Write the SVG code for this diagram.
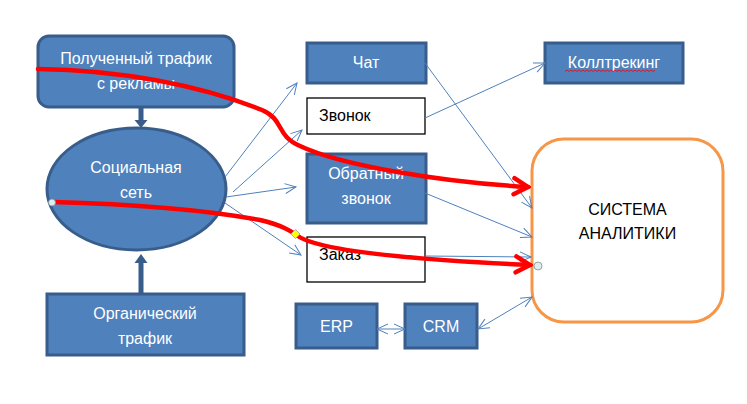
<svg xmlns="http://www.w3.org/2000/svg" width="747" height="404" viewBox="0 0 747 404">
<style>
.box{fill:#4F81BD;stroke:#385D8A;stroke-width:3}
.wbox{fill:#FFFFFF;stroke:#000000;stroke-width:1.3}
.t{font-family:"Liberation Sans",Arial,sans-serif;font-size:16px;fill:#FFFFFF;text-anchor:middle}
.tb{font-family:"Liberation Sans",Arial,sans-serif;font-size:16px;fill:#000000}
.c{fill:none;stroke:#4F81BD;stroke-width:1}
.red{fill:none;stroke:#FF0000;stroke-width:4.5;stroke-linecap:round}
</style>
<defs>
<marker id="oa" markerUnits="userSpaceOnUse" markerWidth="14" markerHeight="12" refX="12" refY="6" orient="auto">
<path d="M1,1 L12,6 L1,11" fill="none" stroke="#4F81BD" stroke-width="1"/>
</marker>
<marker id="oas" markerUnits="userSpaceOnUse" markerWidth="14" markerHeight="12" refX="12" refY="6" orient="auto-start-reverse">
<path d="M1,1 L12,6 L1,11" fill="none" stroke="#4F81BD" stroke-width="1"/>
</marker>
<marker id="ra" markerUnits="userSpaceOnUse" markerWidth="20" markerHeight="22" refX="17" refY="11" orient="auto">
<path d="M3,3 L17,11 L3,19" fill="none" stroke="#FF0000" stroke-width="4.5" stroke-linecap="round" stroke-linejoin="miter"/>
</marker>
</defs>

<g id="node-ad-traffic">
<rect class="box" x="38" y="36" width="196" height="71" rx="11"/>
<text class="t" x="136" y="64">Полученный трафик</text>
<text class="t" x="136" y="89">с рекламы</text>
</g>

<g id="node-social">
<ellipse class="box" cx="136.5" cy="189" rx="89.5" ry="61"/>
<text class="t" x="136" y="173">Социальная</text>
<text class="t" x="136" y="198">сеть</text>
</g>

<g id="node-organic">
<rect class="box" x="47" y="294" width="197" height="61"/>
<text class="t" x="145" y="319">Органический</text>
<text class="t" x="145" y="344">трафик</text>
</g>

<g id="node-chat">
<rect class="box" x="307" y="43" width="119" height="40"/>
<text class="t" x="366" y="68">Чат</text>
</g>

<g id="node-call">
<rect class="wbox" x="307" y="98" width="118" height="36"/>
<text class="tb" x="319" y="121">Звонок</text>
</g>

<g id="node-callback">
<rect class="box" x="307" y="154" width="119" height="69"/>
<text class="t" x="366" y="179">Обратный</text>
<text class="t" x="366" y="204">звонок</text>
</g>

<g id="node-order">
<rect class="wbox" x="307" y="237" width="118" height="45"/>
<text class="tb" x="319" y="260">Заказ</text>
</g>

<g id="node-calltracking">
<rect class="box" x="545" y="43" width="138" height="40"/>
<text class="t" x="614" y="68">Коллтрекинг</text>
<path d="M565,71.5 l2,-1.5 l2,1.5 l2,-1.5 l2,1.5 l2,-1.5 l2,1.5 l2,-1.5 l2,1.5 l2,-1.5 l2,1.5 l2,-1.5 l2,1.5 l2,-1.5 l2,1.5 l2,-1.5 l2,1.5 l2,-1.5 l2,1.5 l2,-1.5 l2,1.5 l2,-1.5 l2,1.5 l2,-1.5 l2,1.5 l2,-1.5 l2,1.5 l2,-1.5 l2,1.5 l2,-1.5 l2,1.5 l2,-1.5 l2,1.5 l2,-1.5 l2,1.5 l2,-1.5 l2,1.5 l2,-1.5 l2,1.5 l2,-1.5 l2,1.5 l2,-1.5 l2,1.5 l2,-1.5 l2,1.5 l2,-1.5" fill="none" stroke="#FF0000" stroke-width="0.8"/>
</g>

<g id="node-erp">
<rect class="box" x="296" y="304" width="81" height="44"/>
<text class="t" x="336.5" y="332">ERP</text>
</g>

<g id="node-crm">
<rect class="box" x="405" y="304" width="72" height="44"/>
<text class="t" x="441" y="332">CRM</text>
</g>

<g id="node-analytics">
<rect x="532" y="139" width="191" height="183" rx="32" fill="#FFFFFF" stroke="#F79646" stroke-width="3"/>
<text class="tb" x="627.5" y="215" text-anchor="middle">СИСТЕМА</text>
<text class="tb" x="627.5" y="239" text-anchor="middle">АНАЛИТИКИ</text>
</g>

<g id="connectors">
<rect x="138.5" y="107" width="5" height="14" fill="#385D8A"/>
<polygon points="134.5,120 147.5,120 141,128" fill="#385D8A"/>
<rect x="138.5" y="262" width="5" height="32" fill="#385D8A"/>
<polygon points="134.5,263 147.5,263 141,254" fill="#385D8A"/>
<line class="c" x1="225" y1="177" x2="297" y2="83" marker-end="url(#oa)"/>
<line class="c" x1="233" y1="192" x2="302" y2="130" marker-end="url(#oa)"/>
<line class="c" x1="226" y1="197" x2="296" y2="187" marker-end="url(#oa)"/>
<line class="c" x1="225" y1="203" x2="301" y2="255" marker-end="url(#oa)"/>
<line class="c" x1="425" y1="63" x2="532" y2="208" marker-end="url(#oa)"/>
<line class="c" x1="425" y1="118" x2="545" y2="63" marker-end="url(#oa)"/>
<line class="c" x1="425" y1="193" x2="532" y2="237" marker-end="url(#oa)"/>
<line class="c" x1="425" y1="256" x2="531" y2="257" marker-end="url(#oa)"/>
<line class="c" x1="377" y1="329" x2="405" y2="329" marker-start="url(#oas)" marker-end="url(#oas)"/>
<line class="c" x1="478" y1="329" x2="532" y2="297" marker-start="url(#oas)" marker-end="url(#oas)"/>
<path class="red" d="M38,69 C120,70 200,85 262,110 C285,120 275,135 300,146 C340,165 440,182 528,187" marker-end="url(#ra)"/>
<path class="red" d="M53,202 C130,204 200,209 260,220 C285,226 292,232 298,236 C320,252 420,260 530,265" marker-end="url(#ra)"/>
<circle cx="52" cy="202.5" r="3.5" fill="#DAEEF3" stroke="#8C8C8C" stroke-width="0.8"/>
<polygon points="295.5,229.5 300,234 295.5,238.5 291,234" fill="#FFFF00" stroke="#A0A0A0" stroke-width="0.8"/>
<circle cx="538" cy="266" r="4" fill="#DAEEF3" stroke="#8C8C8C" stroke-width="0.8"/>
</g>
</svg>
